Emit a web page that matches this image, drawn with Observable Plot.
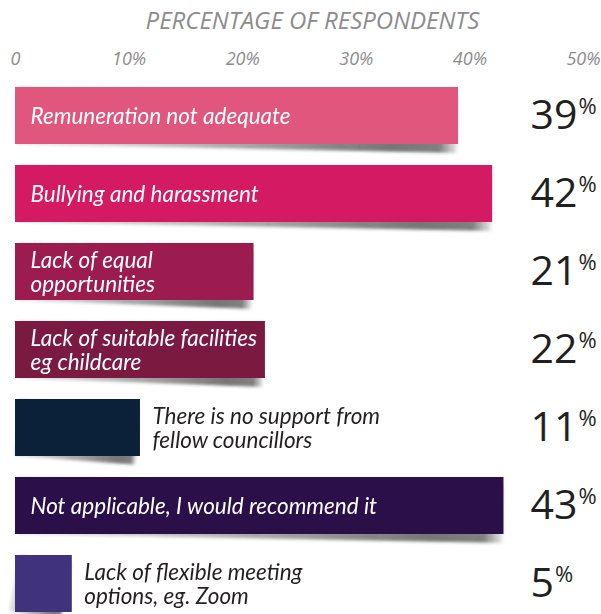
<!DOCTYPE html>
<html>
<head>
<meta charset="utf-8">
<script src="https://cdn.jsdelivr.net/npm/d3@7"></script>
<script src="https://cdn.jsdelivr.net/npm/@observablehq/plot@0.6"></script>
<style>
  html, body { margin: 0; padding: 0; background: #fff; }
  #chart svg { display: block; }
</style>
</head>
<body>
<div id="chart"></div>
<script>
const title = "PERCENTAGE OF RESPONDENTS";
const categories = [
  "Remuneration not adequate",
  "Bullying and harassment",
  "Lack of equal opportunities",
  "Lack of suitable facilities eg childcare",
  "There is no support from fellow councillors",
  "Not applicable, I would recommend it",
  "Lack of flexible meeting options, eg. Zoom"
];
const labels = [
  "Remuneration not adequate",
  "Bullying and harassment",
  "Lack of equal\nopportunities",
  "Lack of suitable facilities\neg childcare",
  "There is no support from\nfellow councillors",
  "Not applicable, I would recommend it",
  "Lack of flexible meeting\noptions, eg. Zoom"
];
const values = [39, 42, 21, 22, 11, 43, 5];
const colors = ["#E0567C", "#D31A62", "#9C1C50", "#7A1A40", "#0B2039", "#2B0F49", "#40327C"];
const labelInside = [true, true, true, true, false, true, false];
const tickValues = [0, 10, 20, 30, 40, 50];

const data = categories.map((c, i) => ({
  category: c, label: labels[i], value: values[i], color: colors[i], inside: labelInside[i]
}));

const font = "'Open Sans', 'Noto Sans', sans-serif";
const labelFont = "Lato, 'Open Sans', sans-serif";

const shadowRender = (index, scales, vals, dims, ctx, next) => {
  const g = next(index, scales, vals, dims, ctx);
  d3.select(g).attr("filter", "url(#shadowBlur)");
  d3.select(g).selectAll("rect").each(function () {
    const r = d3.select(this);
    const x = +r.attr("x"), y = +r.attr("y"), w = +r.attr("width");
    const angle = Math.atan(9 / Math.max(w, 1)) * 180 / Math.PI;
    r.attr("transform", `rotate(${angle}, ${x}, ${y})`);
  });
  return g;
};

const percentRender = (index, scales, vals, dims, ctx, next) => {
  const g = next(index, scales, vals, dims, ctx);
  d3.select(g).selectAll("text").append("tspan")
    .attr("font-size", 22)
    .attr("dy", "-15")
    .attr("dx", "1")
    .text("%");
  return g;
};

const plot = Plot.plot({
  width: 601,
  height: 614,
  marginTop: 84,
  marginBottom: 0,
  marginLeft: 15,
  marginRight: 18,
  style: { fontFamily: font, background: "#fff" },
  x: { domain: [0, 50] },
  y: { domain: categories, paddingInner: 0.27, paddingOuter: 0.025, axis: null },
  marks: [
    Plot.axisX({
      anchor: "top",
      ticks: tickValues,
      tickFormat: d => d === 0 ? "0" : d + "%",
      tickSize: 0,
      tickPadding: 20,
      fontSize: 18,
      fontStyle: "italic",
      color: "#8c8c8c",
      label: null
    }),
    Plot.text([title], {
      frameAnchor: "top",
      lineAnchor: "middle",
      dy: -63,
      dx: 13,
      fontSize: 24,
      fontStyle: "italic",
      fill: "#8c8c8c"
    }),
    Plot.barX(data, {
      x: "value",
      y: "category",
      fill: "url(#shadowGrad)",
      insetLeft: 4,
      render: shadowRender
    }),
    Plot.barX(data, {
      x: "value",
      y: "category",
      fill: d => d.color
    }),
    Plot.text(data.filter(d => d.inside), {
      x: 0,
      y: "category",
      text: "label",
      textAnchor: "start",
      dx: 15,
      fill: "white",
      fontFamily: labelFont,
      fontSize: 22.5,
      fontStyle: "italic",
      lineHeight: 1.1
    }),
    Plot.text(data.filter(d => !d.inside), {
      x: "value",
      y: "category",
      text: "label",
      textAnchor: "start",
      dx: 12,
      fill: "#231F20",
      fontFamily: labelFont,
      fontSize: 22.5,
      fontStyle: "italic",
      lineHeight: 1.1
    }),
    Plot.text(data, {
      y: "category",
      text: d => String(d.value),
      frameAnchor: "right",
      textAnchor: "start",
      dx: -53,
      dy: 0,
      fill: "#231F20",
      fontSize: 41,
      render: percentRender
    })
  ]
});

const svg = d3.select(plot);
const defs = svg.insert("defs", ":first-child");
const grad = defs.append("linearGradient").attr("id", "shadowGrad")
  .attr("x1", 0).attr("y1", 0).attr("x2", 1).attr("y2", 0);
[[0, 0.15], [0.4, 0.35], [0.85, 0.65], [0.96, 0.6], [1, 0.1]].forEach(([o, a]) => {
  grad.append("stop").attr("offset", o).attr("stop-color", "#2a2a2a").attr("stop-opacity", a);
});
defs.append("filter").attr("id", "shadowBlur")
  .attr("x", "-5%").attr("y", "-20%").attr("width", "110%").attr("height", "140%")
  .append("feGaussianBlur").attr("stdDeviation", 1.8);

document.getElementById("chart").appendChild(plot);
</script>
</body>
</html>
